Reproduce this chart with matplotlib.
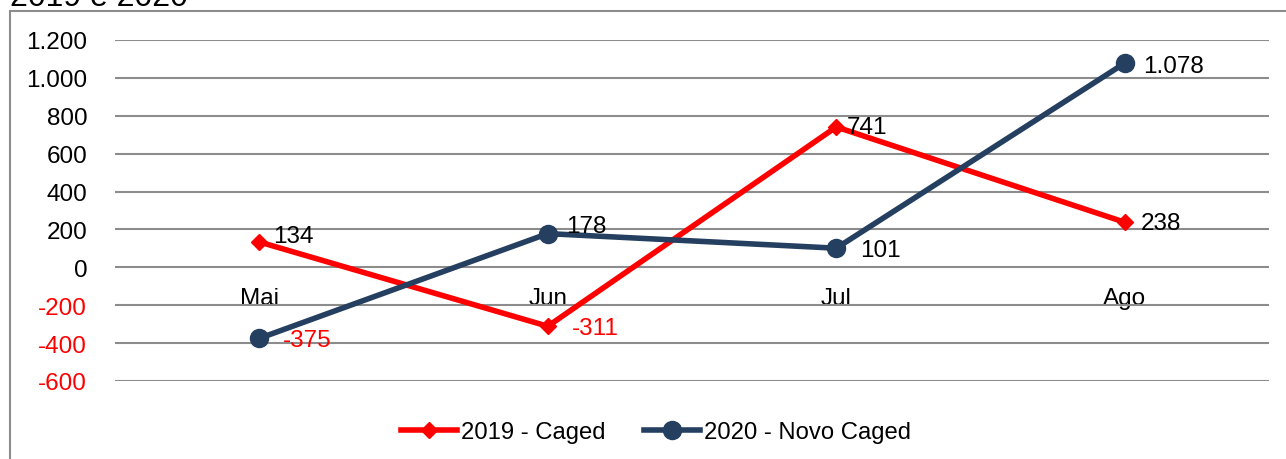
import matplotlib
matplotlib.use('Agg')
import matplotlib.pyplot as plt
from matplotlib.patches import Rectangle

plt.rcParams['font.family'] = ['Liberation Sans', 'DejaVu Sans']

meses = ['Mai', 'Jun', 'Jul', 'Ago']
caged_2019 = [134, -311, 741, 238]
novo_caged_2020 = [-375, 178, 101, 1078]
y_ticks = [-600, -400, -200, 0, 200, 400, 600, 800, 1000, 1200]


def fmt(v):
    return f'{v:,}'.replace(',', '.')


W, H = 1286, 460
fig = plt.figure(figsize=(W / 100, H / 100), dpi=100)

# moldura cinza do gráfico
fig.patches.append(Rectangle((10 / W, -0.05), 1.1, 1 - 12 / H + 0.05,
                             transform=fig.transFigure, fill=False,
                             edgecolor='#8c8c8c', linewidth=1.5))
fig.text(10 / W, 1 - 6 / H, '2019 e 2020', fontsize=23, va='baseline', ha='left')

ax = fig.add_axes([115 / W, 1 - 382 / H, (1269 - 115) / W, (382 - 41) / H])
x = list(range(len(meses)))

red = '#ff0000'
navy = '#243f60'
ax.plot(x, caged_2019, color=red, lw=4, marker='D', ms=8, label='2019 - Caged', zorder=3)
ax.plot(x, novo_caged_2020, color=navy, lw=4, marker='o', ms=13, label='2020 - Novo Caged', zorder=3)

ax.set_xlim(-0.5, 3.5)
ax.set_ylim(-600, 1200)
ax.set_xticks(x)
ax.spines['bottom'].set_position(('data', 0))
ax.set_xticklabels(meses, fontsize=17.5)
ax.tick_params(axis='x', length=0, pad=14, labelsize=17.5)

ax.set_yticks(y_ticks)
ax.set_yticklabels([fmt(v) for v in y_ticks], fontsize=17.5)
for lab, v in zip(ax.get_yticklabels(), y_ticks):
    lab.set_color(red if v < 0 else 'black')
ax.tick_params(axis='y', length=0, pad=20)
ax.grid(axis='y', color='#8c8c8c', lw=1.5, zorder=0)
for s in ['top', 'right', 'left', 'bottom']:
    ax.spines[s].set_visible(False)

# rótulos de dados
off_2019 = [(14, 6), (24, -2), (10, 0), (16, -1)]
off_2020 = [(24, -2), (18, 8), (24, -2), (18, -3)]
for serie, offs in [(caged_2019, off_2019), (novo_caged_2020, off_2020)]:
    for xi, v, (dx, dy) in zip(x, serie, offs):
        ax.annotate(fmt(v), (xi, v), xytext=(dx * 0.72, dy * 0.72), textcoords='offset points',
                    fontsize=17.5, va='center', ha='left',
                    color=red if v < 0 else 'black', zorder=4)

ax.legend(loc='center', bbox_to_anchor=((656 - 115) / (1269 - 115), -(433 - 382) / (382 - 41)),
          ncol=2, frameon=False, fontsize=17.2, handlelength=2.35, columnspacing=1.6,
          handletextpad=0.17)

fig.savefig('out.png', dpi=100)
